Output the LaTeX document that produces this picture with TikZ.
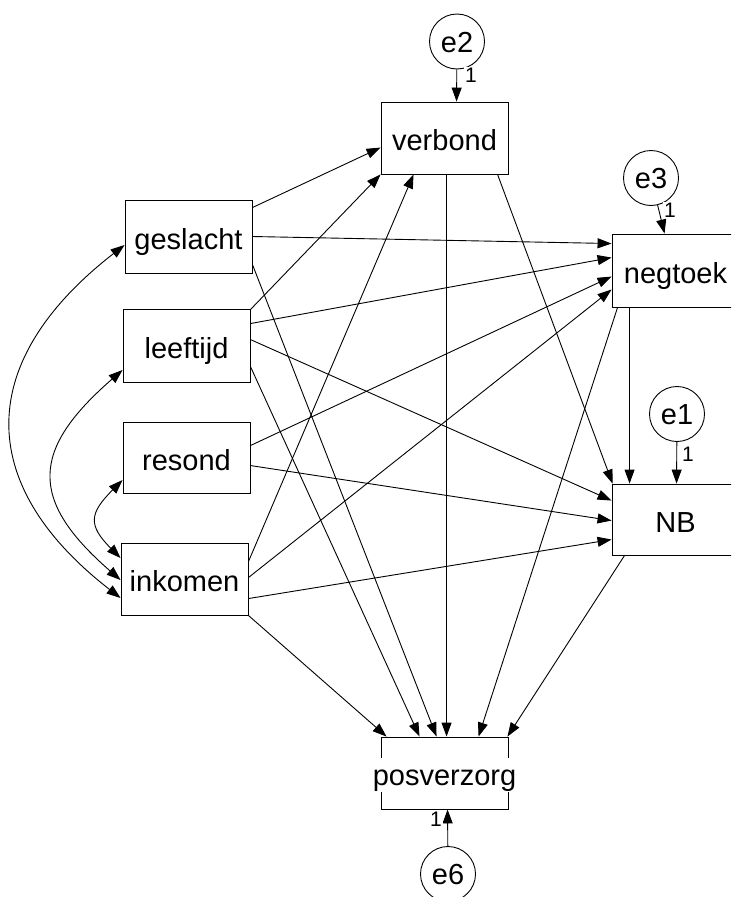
\documentclass[tikz,border=0pt]{standalone}
\usepackage{fontspec}
\setmainfont{Liberation Sans}
\usetikzlibrary{arrows.meta,calc}
\begin{document}
\begin{tikzpicture}[x=1pt,y=-1pt,
  box/.style={draw, line width=0.9pt, minimum width=127pt, minimum height=72pt, inner sep=0pt,
    font=\fontsize{29}{34}\selectfont, text height=25pt, text depth=0pt},
  err/.style={draw, circle, line width=0.9pt, minimum size=55pt, inner sep=0pt,
    font=\fontsize{29}{34}\selectfont, text height=21pt, text depth=0pt},
  one/.style={fill=white, inner sep=1pt, font=\fontsize{21}{24}\selectfont},
  arr/.style={line width=0.9pt, -{Triangle[length=14pt,width=10pt]}},
  dbl/.style={line width=0.9pt, {Triangle[length=14pt,width=10pt]}-{Triangle[length=14pt,width=10pt]}}]
\useasboundingbox (0,0) rectangle (731,897);
\clip (0,0) rectangle (731,897);

% observed variables
\node[box] (verbond) at (444.5,138) {verbond};
\node[box, minimum height=73pt] (geslacht) at (188.5,236.5) {geslacht};
\node[box, minimum height=73pt] (leeftijd) at (186.5,345.5) {leeftijd};
\node[box, minimum height=71pt] (resond) at (186.5,457.5) {resond};
\node[box] (inkomen) at (184.5,579) {inkomen};
\node[box, minimum height=73pt] (negtoek) at (675.5,270.5) {negtoek};
\node[box, minimum height=71pt] (NB) at (675.5,519.5) {NB};
\node[box] (posverzorg) at (444.5,773) {};
\node[fill=white, inner sep=2pt, text height=25pt, text depth=5pt, anchor=base,
  font=\fontsize{29}{34}\selectfont] (posverzorgtext) at ($(posverzorg.center)+(0,12)$) {posverzorg};

% error terms
\node[err] (e2) at (457,41.5) {e2};
\node[err] (e3) at (651,178) {e3};
\node[err] (e1) at (677,414) {e1};
\node[err] (e6) at (448,874) {e6};

% error paths
\draw[arr] (e2) -- ($(verbond.north west)+(76,0)$);
\draw[arr] (e3) -- ($(negtoek.north west)+(53,0)$);
\draw[arr] (e1) -- ($(NB.north west)+(65,0)$);
\draw[arr] (e6) -- ($(posverzorg.south west)+(67,0)$);

% geslacht
\draw[arr] ($(geslacht.north east)+(0,8)$) -- ($(verbond.north west)+(0,46)$);
\draw[arr] (geslacht.east) -- ($(negtoek.north west)+(0,10)$);
\draw[arr] ($(geslacht.north east)+(0,65)$) -- ($(posverzorg.north west)+(56,0)$);
% leeftijd
\draw[arr] ($(leeftijd.north east)+(0,1)$) -- (verbond.south west);
\draw[arr] ($(leeftijd.north east)+(0,15)$) -- ($(negtoek.north west)+(0,24)$);
\draw[arr] ($(leeftijd.north east)+(0,31)$) -- ($(NB.north west)+(0,17)$);
\draw[arr] ($(leeftijd.north east)+(0,58)$) -- ($(posverzorg.north west)+(39,0)$);
% resond
\draw[arr] ($(resond.north east)+(0,24)$) -- ($(negtoek.north west)+(0,43)$);
\draw[arr] ($(resond.north east)+(0,44)$) -- ($(NB.north west)+(0,37)$);
% inkomen
\draw[arr] ($(inkomen.north east)+(0,19)$) -- ($(verbond.south west)+(33,0)$);
\draw[arr] ($(inkomen.north east)+(0,35)$) -- ($(negtoek.north west)+(0,56)$);
\draw[arr] ($(inkomen.north east)+(0,56)$) -- ($(NB.north west)+(0,56)$);
\draw[arr] (inkomen.south east) -- ($(posverzorg.north west)+(6,0)$);
% verbond
\draw[arr] ($(verbond.south west)+(117,0)$) -- ($(NB.north west)+(1,0)$);
\draw[arr] ($(verbond.south west)+(66,0)$) -- ($(posverzorg.north west)+(66,0)$);
% negtoek
\draw[arr] ($(negtoek.south west)+(18,0)$) -- ($(NB.north west)+(18,0)$);
\draw[arr] ($(negtoek.south west)+(6,0)$) -- ($(posverzorg.north west)+(98,0)$);
% NB
\draw[arr] ($(NB.south west)+(13,0)$) -- ($(posverzorg.north east)+(-1,0)$);

% covariances
\draw[dbl] ($(geslacht.west)+(0,8.5)$) .. controls ($(geslacht.west)+(-148,123.5)$) and ($(inkomen.west)+(-148,-96)$) .. ($(inkomen.west)+(0,19)$);
\draw[dbl] ($(leeftijd.west)+(0,24.5)$) .. controls ($(leeftijd.west)+(-92,104.5)$) and ($(inkomen.west)+(-92,-79)$) .. ($(inkomen.west)+(0,1)$);
\draw[dbl] ($(resond.west)+(0,22.5)$) .. controls ($(resond.west)+(-33,55.5)$) and ($(inkomen.west)+(-33,-54)$) .. ($(inkomen.west)+(0,-21)$);

% fixed-loading labels
\node[one] (one2) at (471,75) {1};
\node[one] (one3) at (670,210) {1};
\node[one] (one1) at (688,454) {1};
\node[one] (one6) at (436,819) {1};
\end{tikzpicture}
\end{document}
